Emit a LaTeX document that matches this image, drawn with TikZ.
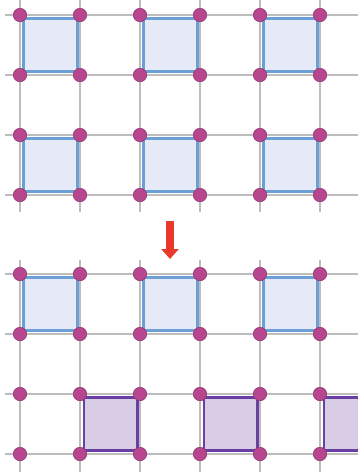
\documentclass[tikz,border=0pt]{standalone}
\usetikzlibrary{arrows.meta}
\definecolor{GridGray}{HTML}{BDBDBD}
\definecolor{DotPink}{HTML}{B8468F}
\definecolor{DotEdge}{HTML}{8C3470}
\definecolor{CellBlue}{HTML}{6B9FD6}
\definecolor{CellBlueFill}{HTML}{E6EAF6}
\definecolor{CellPurple}{HTML}{6A3FA3}
\definecolor{CellPurpleFill}{HTML}{D8CCE5}
\definecolor{ArrowRed}{HTML}{E8392B}

\begin{document}
\begin{tikzpicture}[x=1pt,y=-1pt,>=Latex,
    grid line/.style={GridGray,line width=1.4pt},
    site/.style={circle,draw=DotEdge,line width=0.5pt,fill=DotPink,minimum size=13.5pt,inner sep=0pt},
    bluecell/.style={draw=CellBlue,line width=2.4pt,fill=CellBlueFill},
    purplecell/.style={draw=CellPurple,line width=2.4pt,fill=CellPurpleFill}]
    \clip (0,0) rectangle (358,472);

    % upper lattice
    \foreach \y in {15,75,135,195}
      \draw[grid line] (5,\y) -- (358,\y);
    \foreach \x in {20,80,...,320}
      \draw[grid line] (\x,0) -- (\x,212);

    % lower lattice
    \foreach \y in {274,334,394,454}
      \draw[grid line] (5,\y) -- (358,\y);
    \foreach \x in {20,80,...,320}
      \draw[grid line] (\x,260) -- (\x,472);

    % plaquettes
    \foreach \x in {20,140,260} {
      \foreach \y in {15,135,274}
        \draw[bluecell] (\x+3.5,\y+3.5) rectangle (\x+57.5,\y+56.5);
    }
    \foreach \x in {80,200,320}
      \draw[purplecell] (\x+4,397.5) rectangle (\x+57.5,450.5);

    % lattice sites
    \foreach \x [count=\i] in {20,80,...,320} {
      \foreach \y [count=\j] in {15,75,135,195,274,334,394,454}
        \node[site] (s-\j-\i) at (\x,\y) {};
    }

    \coordinate (arrtop) at (170,221);
    \coordinate (arrbot) at (170,259);
    \draw[ArrowRed,line width=8pt,-{Triangle[width=17pt,length=10pt]}] (arrtop) -- (arrbot);
  \end{tikzpicture}
\end{document}
